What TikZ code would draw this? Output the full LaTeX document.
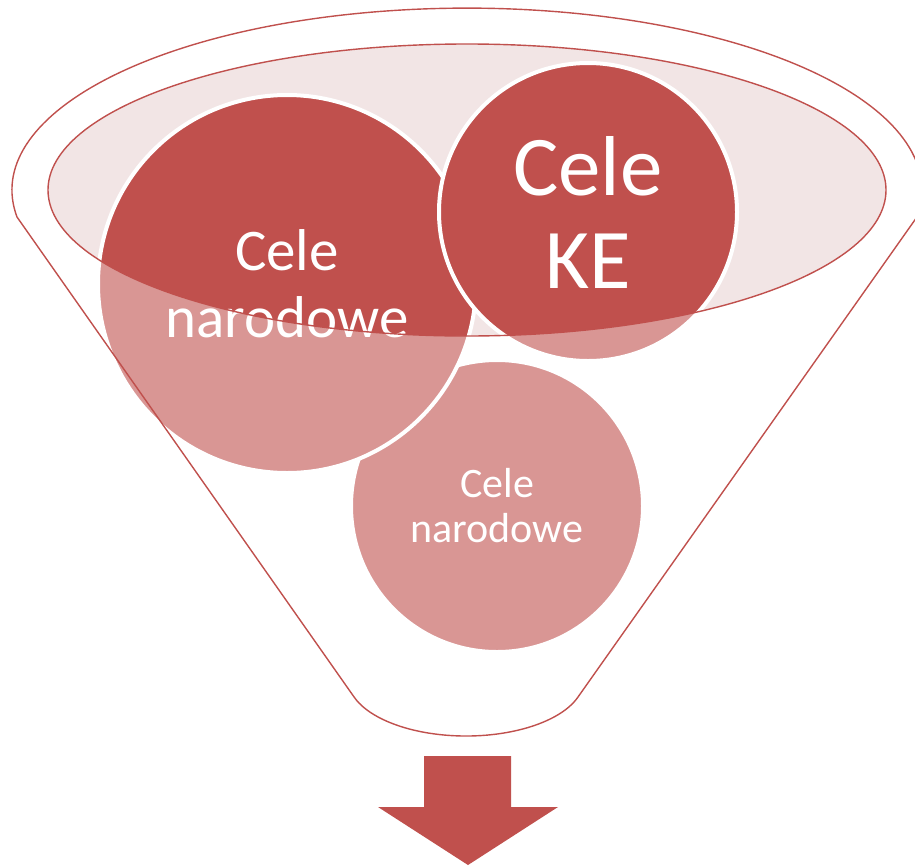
\documentclass[tikz,border=0pt]{standalone}
\usepackage{fontspec}
\setmainfont{Carlito}
\usepackage{tikz}
\usetikzlibrary{positioning}

\definecolor{funnelred}{HTML}{C0504D}
\definecolor{funnelpale}{HTML}{F2E5E5}

\begin{document}
\begin{tikzpicture}[
      x=1pt, y=-1pt,
      goal/.style={
         draw=white,
         line width=4pt,
         fill=funnelred,
         shape=circle,
         text=white,
         align=center,
         inner sep=0pt
      },
      rim/.style={
         draw=funnelred,
         line width=1.4pt
      }
   ]
   \useasboundingbox (0,0) rectangle (915,865);
   \clip (0,0) rectangle (915,865);

   \coordinate (mouth) at (467,190);
   \fill[funnelpale] (mouth) ellipse [x radius=419pt, y radius=146pt];

   \node[goal, minimum size=292pt, font=\fontsize{42}{45}\selectfont] (low) at (497,506) {Cele\\narodowe};
   \node[goal, minimum size=378pt, font=\fontsize{59}{67}\selectfont] (nat) at (287,284) {Cele\\narodowe};
   \node[goal, minimum size=298pt, font=\fontsize{85}{93}\selectfont] (ke) at (588,212) {Cele\\KE};

   \fill[white, fill opacity=0.4, even odd rule] (0,0) rectangle (915,865)
      (mouth) ellipse [x radius=419pt, y radius=146pt];
   \draw[rim] (mouth) ellipse [x radius=419pt, y radius=146pt];

   \draw[rim] (17,217) arc [start angle=188.5, end angle=-8.5, x radius=455pt, y radius=182pt]
      -- (578,697) arc [start angle=-18.4, end angle=-161.6, x radius=118pt, y radius=57pt]
      -- cycle;

   \fill[funnelred] (424,756) -- (511,756) -- (511,807) -- (558,807) -- (468,865)
      -- (378,807) -- (424,807) -- cycle;
\end{tikzpicture}
\end{document}
